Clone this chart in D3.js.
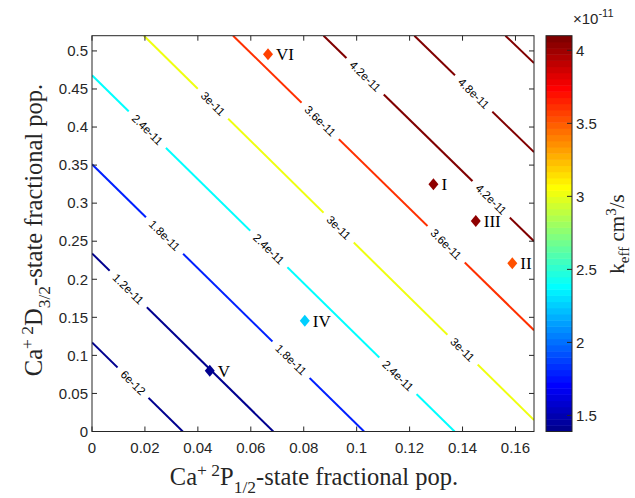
<!DOCTYPE html>
<html><head><meta charset="utf-8">
<script src="https://cdn.jsdelivr.net/npm/d3@7"></script>
<style>body{margin:0;background:#fff} svg{display:block}</style>
</head><body>
<svg id="c" width="635" height="498"></svg>
<script>
// ---------- data ----------
const xTicks = [0, 0.02, 0.04, 0.06, 0.08, 0.1, 0.12, 0.14, 0.16];
const yTicks = [0, 0.05, 0.1, 0.15, 0.2, 0.25, 0.3, 0.35, 0.4, 0.45, 0.5];
const cbarTicks = [1.5, 2, 2.5, 3, 3.5, 4];           // ×10^-11
const cbarLimits = [1.39e-11, 4.1e-11];

const contourLevels = [6e-12, 1.2e-11, 1.8e-11, 2.4e-11, 3e-11, 3.6e-11, 4.2e-11, 4.8e-11, 5.4e-11];
const contourText   = ["6e-12", "1.2e-11", "1.8e-11", "2.4e-11", "3e-11", "3.6e-11", "4.2e-11", "4.8e-11", "5.4e-11"];
const contourStartX = [0, 0, 0, 0, 0.0196, 0.0533, 0.0875, 0.1218, 0.1562];
const contourStartY = [0.117, 0.234, 0.351, 0.468, 0.52, 0.52, 0.52, 0.52, 0.52];
const contourEndX   = [0.0343, 0.0685, 0.1028, 0.137, 0.167, 0.167, 0.167, 0.167, 0.167];
const contourEndY   = [0, 0, 0, 0, 0.015, 0.133, 0.25, 0.367, 0.484];

// inline contour labels: which level, and x position of label centre
const labelLevel = [0, 1, 2, 2, 3, 3, 3, 4, 4, 4, 5, 5, 6, 6, 7];
const labelX     = [0.0155, 0.0137, 0.0274, 0.0752, 0.0209, 0.0668, 0.1156, 0.0457, 0.0932, 0.14, 0.0862, 0.1338, 0.1032, 0.1508, 0.1442];

const pointNames = ["I", "II", "III", "IV", "V", "VI"];
const pointX = [0.129, 0.1588, 0.145, 0.0804, 0.0445, 0.0665];
const pointY = [0.325, 0.221, 0.2766, 0.1456, 0.0799, 0.4957];
const pointK = [4.03e-11, 3.52e-11, 4.04e-11, 2.26e-11, 1.42e-11, 3.58e-11];

// ---------- colormap (MATLAB jet, 64) ----------
function jet(m) {
  const n = Math.ceil(m / 4);
  const u = [];
  for (let i = 1; i <= n; i++) u.push(i / n);
  for (let i = 1; i < n; i++) u.push(1);
  for (let i = n; i >= 1; i--) u.push(i / n);
  const base = Math.ceil(n / 2) - (m % 4 === 1 ? 1 : 0);
  const J = Array.from({length: m}, () => [0, 0, 0]);
  u.forEach((v, i) => {
    const g = base + i + 1, r = g + n, b = g - n;
    if (g >= 1 && g <= m) J[g - 1][1] = v;
    if (r >= 1 && r <= m) J[r - 1][0] = v;
    if (b >= 1 && b <= m) J[b - 1][2] = v;
  });
  return J.map(c => d3.rgb(c[0] * 255, c[1] * 255, c[2] * 255).formatHex());
}
const cmap = jet(64);
const cIndex = d3.scaleQuantize().domain(cbarLimits).range(d3.range(64));
const colorOf = v => cmap[v <= cbarLimits[0] ? 0 : v >= cbarLimits[1] ? 63 : cIndex(v)];

// ---------- layout ----------
const svg = d3.select("#c");
const L = 92, R = 534, T = 35.7, B = 431.5;
const x = d3.scaleLinear().domain([0, 0.167]).range([L, R]);
const y = d3.scaleLinear().domain([0, 0.52]).range([B, T]);
const axisCol = "#262626";
const tickFont = "Liberation Sans, Arial, sans-serif";
const serif = "Liberation Serif, Times New Roman, serif";

// contour lines with label gaps via mask
const defs = svg.append("defs");
const mask = defs.append("mask").attr("id", "gapmask").attr("maskUnits", "userSpaceOnUse")
  .attr("x", 0).attr("y", 0).attr("width", 635).attr("height", 498);
mask.append("rect").attr("width", 635).attr("height", 498).attr("fill", "#fff");
defs.append("clipPath").attr("id", "plotclip").append("rect")
  .attr("x", L).attr("y", T).attr("width", R - L).attr("height", B - T);

const lines = contourLevels.map((lv, i) => ({
  lv, text: contourText[i],
  x0: x(contourStartX[i]), y0: y(contourStartY[i]),
  x1: x(contourEndX[i]), y1: y(contourEndY[i])
}));

const lineG = svg.append("g").attr("clip-path", "url(#plotclip)");
lineG.append("g").attr("mask", "url(#gapmask)")
  .selectAll("line").data(lines).join("line")
  .attr("x1", d => d.x0).attr("y1", d => d.y0)
  .attr("x2", d => d.x1).attr("y2", d => d.y1)
  .attr("stroke", d => colorOf(d.lv)).attr("stroke-width", 2);

const labelG = svg.append("g");
labelLevel.forEach((li, k) => {
  const d = lines[li];
  const px = x(labelX[k]);
  const t = (px - d.x0) / (d.x1 - d.x0);
  const py = d.y0 + t * (d.y1 - d.y0);
  const ang = Math.atan2(d.y1 - d.y0, d.x1 - d.x0) * 180 / Math.PI;
  const txt = labelG.append("text")
    .attr("transform", `translate(${px},${py}) rotate(${ang})`)
    .attr("text-anchor", "middle").attr("dy", "0.35em")
    .attr("font-family", tickFont).attr("font-size", 11.5).attr("fill", "#000")
    .text(d.text);
  const w = txt.node().getComputedTextLength();
  mask.append("rect")
    .attr("transform", `translate(${px},${py}) rotate(${ang})`)
    .attr("x", -w / 2 - 7).attr("y", -6).attr("width", w + 14).attr("height", 12)
    .attr("fill", "#000");
});

// axes box and ticks
const ax = svg.append("g");
ax.append("rect").attr("x", L).attr("y", T).attr("width", R - L).attr("height", B - T)
  .attr("fill", "none").attr("stroke", axisCol).attr("stroke-width", 1);
const tl = 5;
xTicks.forEach(v => {
  ax.append("line").attr("x1", x(v)).attr("x2", x(v)).attr("y1", B).attr("y2", B - tl).attr("stroke", axisCol);
  ax.append("line").attr("x1", x(v)).attr("x2", x(v)).attr("y1", T).attr("y2", T + tl).attr("stroke", axisCol);
  ax.append("text").attr("x", x(v)).attr("y", B + 21).attr("text-anchor", "middle")
    .attr("font-family", tickFont).attr("font-size", 15).attr("fill", axisCol).text(d3.format("~g")(v));
});
yTicks.forEach(v => {
  ax.append("line").attr("x1", L).attr("x2", L + tl).attr("y1", y(v)).attr("y2", y(v)).attr("stroke", axisCol);
  ax.append("line").attr("x1", R).attr("x2", R - tl).attr("y1", y(v)).attr("y2", y(v)).attr("stroke", axisCol);
  ax.append("text").attr("x", L - 4).attr("y", y(v)).attr("dy", "0.35em").attr("text-anchor", "end")
    .attr("font-family", tickFont).attr("font-size", 15).attr("fill", axisCol).text(d3.format("~g")(v));
});

// points
const diamond = "M0,-6L5,0L0,6L-5,0Z";
const pts = svg.append("g");
pointNames.forEach((nm, i) => {
  pts.append("path").attr("d", diamond)
    .attr("transform", `translate(${x(pointX[i])},${y(pointY[i])})`)
    .attr("fill", colorOf(pointK[i]));
  pts.append("text").attr("x", x(pointX[i]) + 8).attr("y", y(pointY[i]) + 6)
    .attr("font-family", serif).attr("font-size", 17).attr("fill", "#000").text(nm);
});

// axis labels
const xl = svg.append("text").attr("x", 314).attr("y", 485).attr("text-anchor", "middle")
  .attr("font-family", serif).attr("font-size", 24.5).attr("fill", axisCol);
xl.append("tspan").text("Ca");
xl.append("tspan").attr("font-size", 17.5).attr("dy", -9).text("+ 2");
xl.append("tspan").attr("dy", 9).text("P");
xl.append("tspan").attr("font-size", 17.5).attr("dy", 8).text("1/2");
xl.append("tspan").attr("dy", -8).text("-state fractional pop.");

const yl = svg.append("text").attr("transform", "translate(42,230) rotate(-90)").attr("text-anchor", "middle")
  .attr("font-family", serif).attr("font-size", 24.5).attr("fill", axisCol);
yl.append("tspan").text("Ca");
yl.append("tspan").attr("font-size", 17.5).attr("dy", -9).text("+ 2");
yl.append("tspan").attr("dy", 9).text("D");
yl.append("tspan").attr("font-size", 17.5).attr("dy", 8).text("3/2");
yl.append("tspan").attr("dy", -8).text("-state fractional pop.");

// colorbar
const CL = 546, CR = 572;
const cy = d3.scaleLinear().domain([cbarLimits[0] * 1e11, cbarLimits[1] * 1e11]).range([B, T]);
const cb = svg.append("g");
const bandH = (B - T) / 64;
cb.selectAll("rect.band").data(cmap).join("rect").attr("class", "band")
  .attr("x", CL).attr("width", CR - CL)
  .attr("y", (c, i) => B - (i + 1) * bandH).attr("height", bandH + 0.5)
  .attr("fill", c => c);
cb.append("rect").attr("x", CL).attr("y", T).attr("width", CR - CL).attr("height", B - T)
  .attr("fill", "none").attr("stroke", axisCol).attr("stroke-width", 1);
cbarTicks.forEach(v => {
  cb.append("line").attr("x1", CR).attr("x2", CR - 5).attr("y1", cy(v)).attr("y2", cy(v)).attr("stroke", axisCol);
  cb.append("text").attr("x", CR + 4).attr("y", cy(v)).attr("dy", "0.35em")
    .attr("font-family", tickFont).attr("font-size", 15).attr("fill", axisCol).text(d3.format("~g")(v));
});
const ex = cb.append("text").attr("x", 573).attr("y", 24).attr("font-family", tickFont)
  .attr("font-size", 15).attr("fill", axisCol);
ex.append("tspan").text("\u00d710");
ex.append("tspan").attr("font-size", 11).attr("dy", -7).text("-11");

const cl = svg.append("text").attr("transform", "translate(624,234) rotate(-90)").attr("text-anchor", "middle")
  .attr("font-family", serif).attr("font-size", 21).attr("fill", axisCol);
cl.append("tspan").text("k");
cl.append("tspan").attr("font-size", 15).attr("dy", 5).text("eff");
cl.append("tspan").attr("dy", -5).text(" cm");
cl.append("tspan").attr("font-size", 15).attr("dy", -8).text("3");
cl.append("tspan").attr("dy", 8).text("/s");
</script>
</body></html>
